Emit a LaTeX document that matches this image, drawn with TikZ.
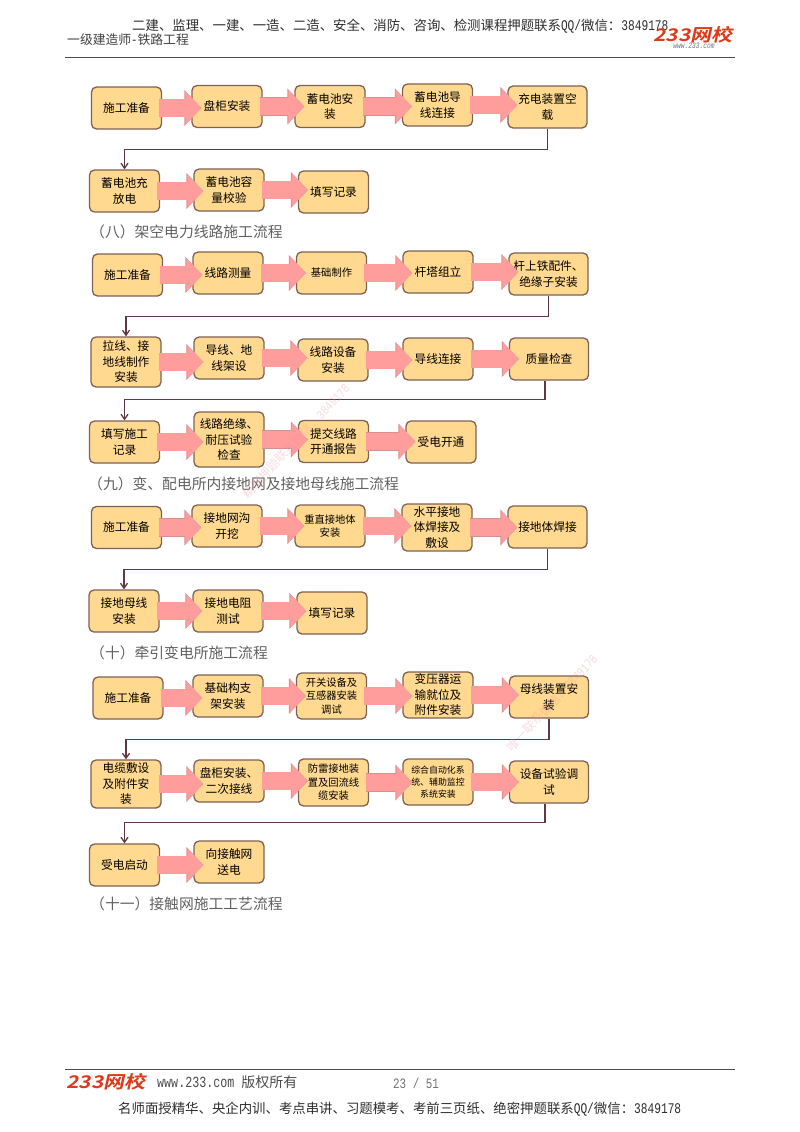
\documentclass[tikz,border=0pt]{standalone}
\usepackage{fontspec}
\setmainfont{Noto Sans CJK SC}
\newfontfamily\latinmono[Scale=1.1,FakeStretch=0.76]{Liberation Mono}
\newfontfamily\logofont[FakeSlant=0.22,FakeStretch=1.2]{Noto Sans CJK SC Bold}
\usetikzlibrary{arrows.meta}
\definecolor{boxfill}{HTML}{FFD98F}
\definecolor{boxline}{HTML}{7D6156}
\definecolor{arrowfill}{HTML}{FF9C9C}
\definecolor{arrowline}{HTML}{D98F8F}
\definecolor{returnline}{HTML}{5E3A48}
\definecolor{logored}{HTML}{DD3A1C}
\definecolor{markpink}{HTML}{F08A9A}
\tikzset{
    flowbox/.style={draw=boxline,fill=boxfill,line width=1.3pt,rounded corners=5pt,
        minimum width=70pt,minimum height=42pt,inner sep=0pt,align=center,
        font=\fontsize{11.7}{15.5}\selectfont,text=black},
    wide/.style={minimum width=79pt},
    smalltext/.style={font=\fontsize{10.3}{13.5}\selectfont},
    tinytext/.style={font=\fontsize{8.9}{11.7}\selectfont},
    blockarrow/.style={draw=arrowfill,line width=17.5pt,-{Triangle[length=16pt,width=33pt]},
        shorten <=-3pt,shorten >=-10pt,
        preaction={draw=arrowline,line width=18.5pt,-{Triangle[length=17pt,width=35pt]}}},
    returnpath/.style={draw=returnline,line width=1.3pt,-{Straight Barb[length=5pt,width=7pt]}},
    heading/.style={anchor=west,inner sep=0pt,text=black!62,font=\fontsize{14.8}{14.8}\selectfont},
    pagetext/.style={inner sep=0pt,text=black!82},
    logotext/.style={inner sep=0pt,text=logored,font=\logofont\fontsize{17.5}{17.5}\selectfont},
    watermark/.style={inner sep=0pt,text=markpink,opacity=0.3,rotate=47,font=\fontsize{12}{12}\selectfont}
}
\begin{document}
\begin{tikzpicture}[x=1pt,y=-1pt]
    \fill[white,use as bounding box] (0,0) rectangle (800,1132);

    \node[pagetext,anchor=west,font=\fontsize{13.4}{13.4}\selectfont] (toptext) at (132,26) {二建、监理、一建、一造、二造、安全、消防、咨询、检测课程押题联系{\latinmono QQ/}微信：{\latinmono 3849178}};
    \node[pagetext,anchor=west,text=black!75,font=\fontsize{12.8}{12.8}\selectfont] (subject) at (67,40) {一级建造师{\latinmono -}铁路工程};
    \node[logotext] (toplogo) at (693,34.5) {233网校};
    \node[inner sep=0pt,text=black!55,font=\latinmono\itshape\fontsize{7.5}{7.5}\selectfont] (topurl) at (694,45.5) {www.233.com};
    \draw[black!70,line width=1pt] (65,57.5) -- (735,57.5);

    \node[flowbox] (a1) at (126.5,108) {施工准备};
    \node[flowbox] (a2) at (227,106.5) {盘柜安装};
    \node[flowbox] (a3) at (330,106.5) {蓄电池安\\装};
    \node[flowbox] (a4) at (437.5,105) {蓄电池导\\线连接};
    \node[flowbox,wide] (a5) at (547.5,107) {充电装置空\\载};
    \node[flowbox] (b1) at (124.5,191) {蓄电池充\\放电};
    \node[flowbox] (b2) at (229,190) {蓄电池容\\量校验};
    \node[flowbox] (b3) at (333.5,192) {填写记录};
    \node[heading] (title8) at (90,232) {（八）架空电力线路施工流程};

    \node[flowbox] (c1) at (127.5,275) {施工准备};
    \node[flowbox] (c2) at (228,273) {线路测量};
    \node[flowbox,smalltext] (c3) at (331.5,273) {基础制作};
    \node[flowbox] (c4) at (438,272) {杆塔组立};
    \node[flowbox,wide] (c5) at (548.5,274) {杆上铁配件、\\绝缘子安装};
    \node[flowbox,minimum height=50pt] (d1) at (126,362) {拉线、接\\地线制作\\安装};
    \node[flowbox] (d2) at (229,358) {导线、地\\线架设};
    \node[flowbox] (d3) at (333,360) {线路设备\\安装};
    \node[flowbox] (d4) at (438,359) {导线连接};
    \node[flowbox,wide] (d5) at (549,359) {质量检查};
    \node[flowbox] (e1) at (124.5,442) {填写施工\\记录};
    \node[flowbox,minimum height=55pt] (e2) at (229,439.5) {线路绝缘、\\耐压试验\\检查};
    \node[flowbox] (e3) at (333.5,441.5) {提交线路\\开通报告};
    \node[flowbox] (e4) at (441,442) {受电开通};
    \node[heading] (title9) at (88,484) {（九）变、配电所内接地网及接地母线施工流程};

    \node[flowbox] (f1) at (126.5,527.5) {施工准备};
    \node[flowbox] (f2) at (227,526) {接地网沟\\开挖};
    \node[flowbox,smalltext] (f3) at (330,526) {重直接地体\\安装};
    \node[flowbox,minimum height=47pt] (f4) at (437,527.5) {水平接地\\体焊接及\\敷设};
    \node[flowbox,wide] (f5) at (547.5,527) {接地体焊接};
    \node[flowbox] (g1) at (124,611) {接地母线\\安装};
    \node[flowbox] (g2) at (228,611) {接地电阻\\测试};
    \node[flowbox] (g3) at (332,613) {填写记录};
    \node[heading] (title10) at (90,653) {（十）牵引变电所施工流程};

    \node[flowbox] (h1) at (128,698) {施工准备};
    \node[flowbox] (h2) at (228,696) {基础构支\\架安装};
    \node[flowbox,smalltext,minimum height=46pt] (h3) at (331.5,696) {开关设备及\\互感器安装\\调试};
    \node[flowbox,minimum height=46pt] (h4) at (438,695) {变压器运\\输就位及\\附件安装};
    \node[flowbox,wide] (h5) at (549,697) {母线装置安\\装};
    \node[flowbox,minimum height=48pt] (i1) at (126,784) {电缆敷设\\及附件安\\装};
    \node[flowbox] (i2) at (229,781) {盘柜安装、\\二次接线};
    \node[flowbox,smalltext,minimum height=47pt] (i3) at (333.5,782.5) {防雷接地装\\置及回流线\\缆安装};
    \node[flowbox,tinytext,minimum height=46pt] (i4) at (438,782) {综合自动化系\\统、辅助监控\\系统安装};
    \node[flowbox,wide] (i5) at (549,782) {设备试验调\\试};
    \node[flowbox] (j1) at (124.5,865) {受电启动};
    \node[flowbox] (j2) at (229,862) {向接触网\\送电};
    \node[heading] (title11) at (90,904) {（十一）接触网施工工艺流程};

    \foreach \from/\to in {a1/a2,a2/a3,a3/a4,a4/a5,b1/b2,b2/b3,
        c1/c2,c2/c3,c3/c4,c4/c5,d1/d2,d2/d3,d3/d4,d4/d5,e1/e2,e2/e3,e3/e4,
        f1/f2,f2/f3,f3/f4,f4/f5,g1/g2,g2/g3,
        h1/h2,h2/h3,h3/h4,h4/h5,i1/i2,i2/i3,i3/i4,i4/i5,j1/j2}
        \draw[blockarrow] (\from.east) -- (\from.east -| \to.west);

    \draw[returnpath] (a5.south) -- ++(0,21) -| (b1.north);
    \draw[returnpath] (c5.south) -- ++(0,21) -| (d1.north);
    \draw[returnpath] ([xshift=-4pt]d5.south) -- ++(0,19) -| (e1.north);
    \draw[returnpath] (f5.south) -- ++(0,21) -| (g1.north);
    \draw[returnpath] (h5.south) -- ++(0,21) -| (i1.north);
    \draw[returnpath] ([xshift=-4pt]i5.south) -- ++(0,19) -| (j1.north);

    \node[watermark] (mark1) at (296,441) {精细押题联系微信：{\latinmono 3849178}};
    \node[watermark] (mark2) at (552,703) {唯一联系微信：{\latinmono 3849178}};

    \draw[black!70,line width=1pt] (65,1069) -- (735,1069);
    \node[logotext] (footlogo) at (106,1082) {233网校};
    \node[pagetext,anchor=west,text=black!70,font=\fontsize{14}{14}\selectfont] (footurl) at (157,1082) {{\latinmono www.233.com }版权所有};
    \node[pagetext,anchor=west,text=black!55,font=\latinmono\fontsize{13}{13}\selectfont] (pageno) at (393,1083) {23 / 51};
    \node[pagetext,anchor=west,font=\fontsize{13.4}{13.4}\selectfont] (foottext) at (118,1109) {名师面授精华、央企内训、考点串讲、习题模考、考前三页纸、绝密押题联系{\latinmono QQ/}微信：{\latinmono 3849178}};
\end{tikzpicture}
\end{document}
